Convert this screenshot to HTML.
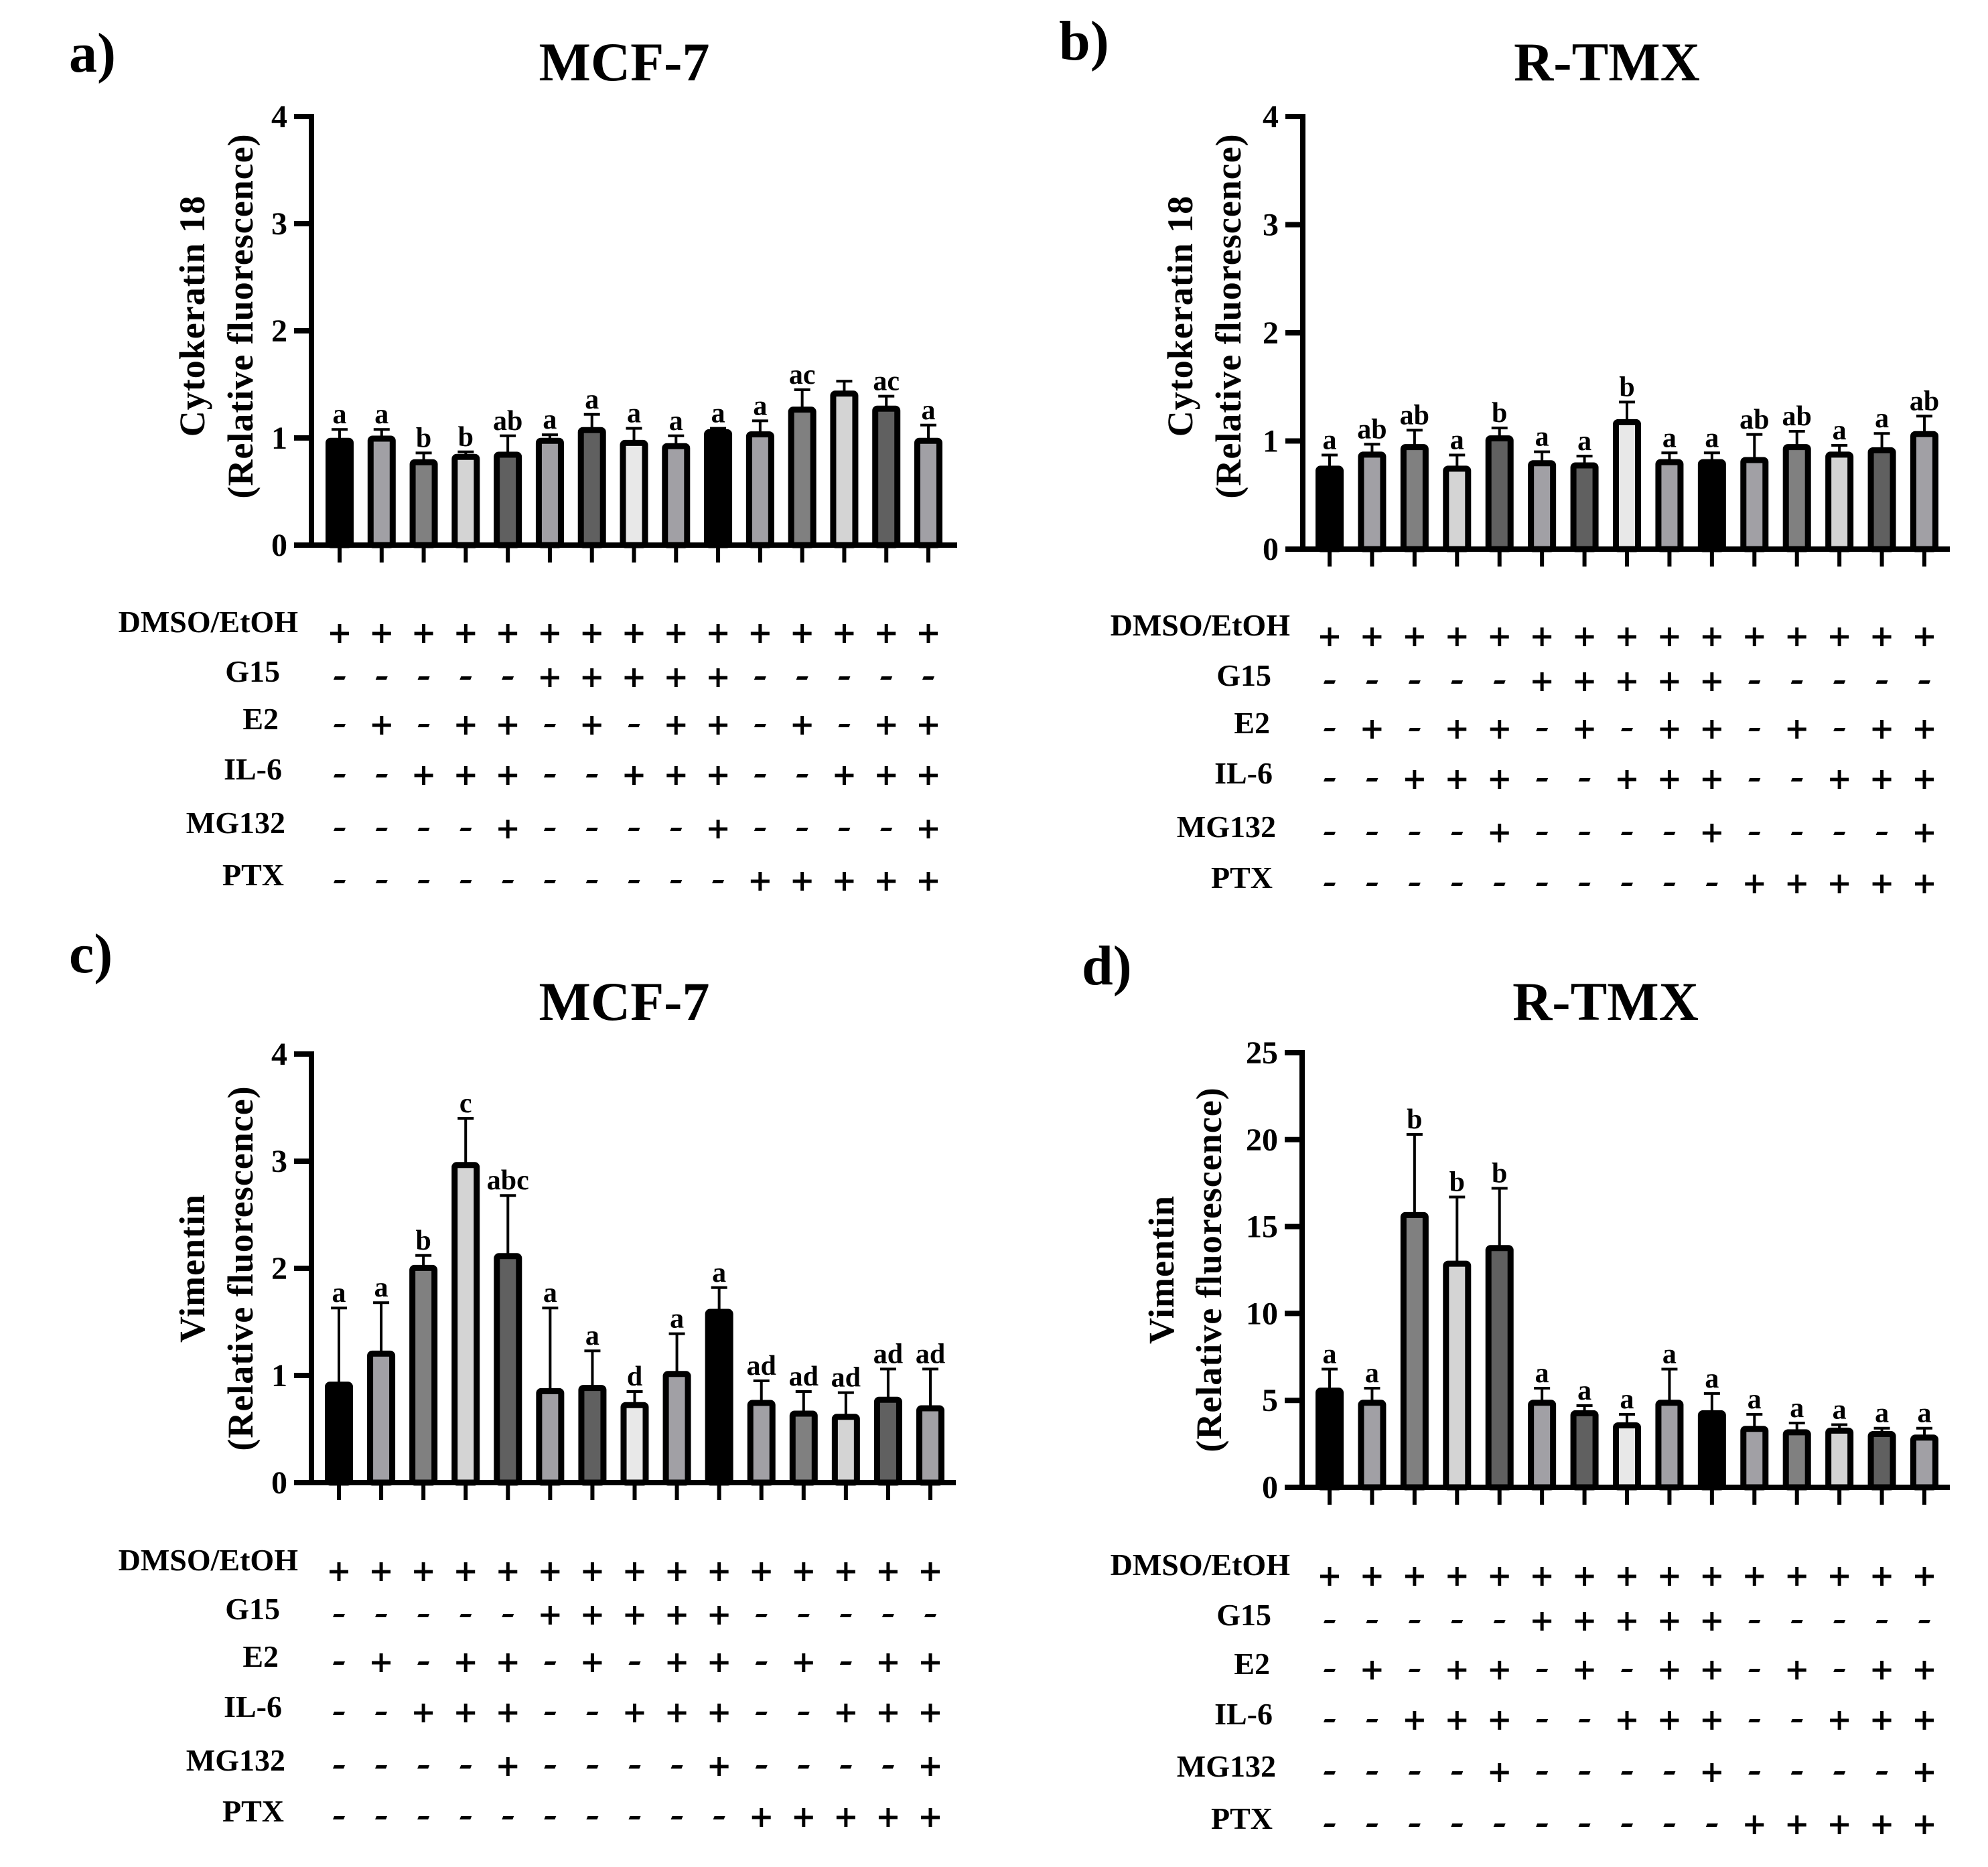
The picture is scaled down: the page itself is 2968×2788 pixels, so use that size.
<!DOCTYPE html>
<html><head><meta charset="utf-8"><style>
html,body{margin:0;padding:0;background:#fff;}
svg{display:block;font-family:"Liberation Serif",serif;font-weight:bold;}
</style></head><body>
<svg id="fig" width="2968" height="2788" viewBox="0 0 2968 2788" xmlns="http://www.w3.org/2000/svg"></svg>
<script>
const barColors = ["#000000","#a1a0a5","#808080","#d4d4d4","#606060","#a1a0a5","#606060","#e8e8e8","#a1a0a5","#000000","#a1a0a5","#808080","#d4d4d4","#606060","#a1a0a5"];
const rowNames = ["DMSO/EtOH","G15","E2","IL-6","MG132","PTX"];
const rowDMSO  = "+++++++++++++++";
const rowG15   = "-----+++++-----";
const rowE2    = "-+-++-+-++-+-++";
const rowIL6   = "--+++--+++--+++";
const rowMG132 = "----+----+----+";
const rowPTX   = "----------+++++";
const aValues  = [0.98,1.00,0.78,0.83,0.85,0.98,1.08,0.96,0.93,1.06,1.04,1.27,1.42,1.28,0.98];
const aErrTops = [1.08,1.08,0.86,0.87,1.02,1.03,1.22,1.09,1.02,1.09,1.16,1.45,1.53,1.39,1.12];
const aLetters = ["a","a","b","b","ab","a","a","a","a","a","a","ac","","ac","a"];
const bValues  = [0.75,0.88,0.95,0.75,1.03,0.80,0.78,1.18,0.81,0.81,0.83,0.95,0.88,0.92,1.07];
const bErrTops = [0.87,0.97,1.10,0.87,1.12,0.90,0.86,1.36,0.89,0.89,1.06,1.09,0.96,1.07,1.23];
const bLetters = ["a","ab","ab","a","b","a","a","b","a","a","ab","ab","a","a","ab"];
const cValues  = [0.92,1.21,2.01,2.97,2.12,0.86,0.89,0.73,1.02,1.60,0.75,0.65,0.62,0.78,0.70];
const cErrTops = [1.63,1.68,2.12,3.40,2.68,1.63,1.23,0.85,1.39,1.82,0.95,0.85,0.84,1.06,1.06];
const cLetters = ["a","a","b","c","abc","a","a","d","a","a","ad","ad","ad","ad","ad"];
const dValues  = [5.6,4.9,15.7,12.9,13.8,4.9,4.3,3.6,4.9,4.3,3.4,3.2,3.3,3.1,2.9];
const dErrTops = [6.8,5.7,20.3,16.7,17.2,5.7,4.7,4.2,6.8,5.4,4.2,3.7,3.6,3.4,3.4];
const dLetters = ["a","a","b","b","b","a","a","a","a","a","a","a","a","a","a"];
const ticksA = [0,1,2,3,4];
const ticksD = [0,5,10,15,20,25];

const NS="http://www.w3.org/2000/svg";
const svg=document.getElementById('fig');
function el(tag,attrs,parent,text){const e=document.createElementNS(NS,tag);for(const k in attrs)e.setAttribute(k,attrs[k]);if(text!==undefined)e.textContent=text;(parent||svg).appendChild(e);return e;}

function panel(p){
  const g=el('g',{});
  
  
  const yS=v=>p.y0-(v-p.ymin)/(p.ymax-p.ymin)*(p.y0-p.ytop);
  const xS=i=>p.x0+i*(p.x1-p.x0)/14;
  let t=el('text',{x:p.lx,y:p.ly,'font-size':84},g,p.id+')');
  
  t=el('text',{x:p.tx,y:p.ty,'font-size':82,'text-anchor':'middle'},g,p.title);
  
  const yt=el('text',{transform:`translate(${p.ytx1},${p.ytc}) rotate(-90)`,'font-size':54,'letter-spacing':1,'text-anchor':'middle'},g,p.ytitle);
  
  const yt2=el('text',{transform:`translate(${p.ytx2},${p.ytc}) rotate(-90)`,'font-size':54,'letter-spacing':1,'text-anchor':'middle'},g,'(Relative fluorescence)');
  
  const ya=el('line',{x1:p.ax,y1:yS(p.ymax)-4,x2:p.ax,y2:p.y0+4,stroke:'#000','stroke-width':8},g);
  
  p.ticks.forEach(v=>{
    const y=yS(v);
    el('line',{x1:p.ax-26,y1:y,x2:p.ax,y2:y,stroke:'#000','stroke-width':8},g);
    const tl=el('text',{x:p.ax-36,y:y+16,'font-size':48,'text-anchor':'end'},g,String(v));
    
  });
  const xa=el('line',{x1:p.ax-26,y1:p.y0,x2:p.xend,y2:p.y0,stroke:'#000','stroke-width':8},g);
  
  p.values.forEach((v,i)=>{
    const cx=xS(i), yv=yS(v), ye=yS(p.errs[i]);
    el('line',{x1:cx,y1:yv,x2:cx,y2:ye,stroke:'#000','stroke-width':4},g);
    el('line',{x1:cx-12,y1:ye,x2:cx+12,y2:ye,stroke:'#000','stroke-width':4},g);
    const r=el('rect',{x:cx-16.5,y:yv+1,width:33,height:p.y0-yv-1,rx:3,fill:barColors[i],stroke:'#000','stroke-width':9},g);
    
    
    el('line',{x1:cx,y1:p.y0,x2:cx,y2:p.y0+26,stroke:'#000','stroke-width':6},g);
    if(p.letters[i]){
      const lt=el('text',{x:cx,y:ye-9,'font-size':42,'text-anchor':'middle'},g,p.letters[i]);
      
    }
  });
  const rows=[rowDMSO,rowG15,rowE2,rowIL6,rowMG132,rowPTX];
  rows.forEach((row,r)=>{
    const cy=p.rows[r];
    const lb=el('text',{x:p.labx[r],y:cy+(r===0?-2:6),'font-size':46,'text-anchor':'end'},g,rowNames[r]);
    
    for(let i=0;i<15;i++){
      const cx=xS(i);
      if(row[i]==='+'){
        el('line',{x1:cx-14,y1:cy,x2:cx+14,y2:cy,stroke:'#000','stroke-width':5},g);
        el('line',{x1:cx,y1:cy-14,x2:cx,y2:cy+14,stroke:'#000','stroke-width':5},g);
      } else {
        el('polygon',{points:`${cx-7},${cy-2} ${cx+9},${cy-2} ${cx+7},${cy+3} ${cx-9},${cy+3}`,fill:'#000'},g);
      }
    }
  });
}
const labxL=[445,418,416,421,426,424];
const labxR=[1926,1898,1896,1900,1905,1900];
panel({id:'a',title:'MCF-7',ytitle:'Cytokeratin 18',lx:103,ly:107,tx:932,ty:120,ytx1:305,ytx2:377,ytc:472,
  ax:465,y0:814,ytop:174,ymin:0,ymax:4,ticks:ticksA,x0:507,x1:1386,xend:1429,
  values:aValues,errs:aErrTops,letters:aLetters,rows:[946,1012,1083,1158,1238,1316],labx:labxL});
panel({id:'b',title:'R-TMX',ytitle:'Cytokeratin 18',lx:1581,ly:89,tx:2399,ty:120,ytx1:1780,ytx2:1852,ytc:472,
  ax:1945,y0:820,ytop:174,ymin:0,ymax:4,ticks:ticksA,x0:1985,x1:2873,xend:2911,
  values:bValues,errs:bErrTops,letters:bLetters,rows:[951,1018,1089,1164,1244,1320],labx:labxR});
panel({id:'c',title:'MCF-7',ytitle:'Vimentin',lx:103,ly:1452,tx:932,ty:1523,ytx1:305,ytx2:377,ytc:1894,
  ax:465,y0:2214,ytop:1574,ymin:0,ymax:4,ticks:ticksA,x0:506,x1:1389,xend:1427,
  values:cValues,errs:cErrTops,letters:cLetters,rows:[2347,2412,2483,2558,2638,2714],labx:labxL});
panel({id:'d',title:'R-TMX',ytitle:'Vimentin',lx:1615,ly:1470,tx:2397,ty:1523,ytx1:1752,ytx2:1823,ytc:1896,
  ax:1944,y0:2221,ytop:1572,ymin:0,ymax:25,ticks:ticksD,x0:1985,x1:2873,xend:2911,
  values:dValues,errs:dErrTops,letters:dLetters,rows:[2354,2421,2494,2569,2647,2725],labx:labxR});
</script>
</body></html>
